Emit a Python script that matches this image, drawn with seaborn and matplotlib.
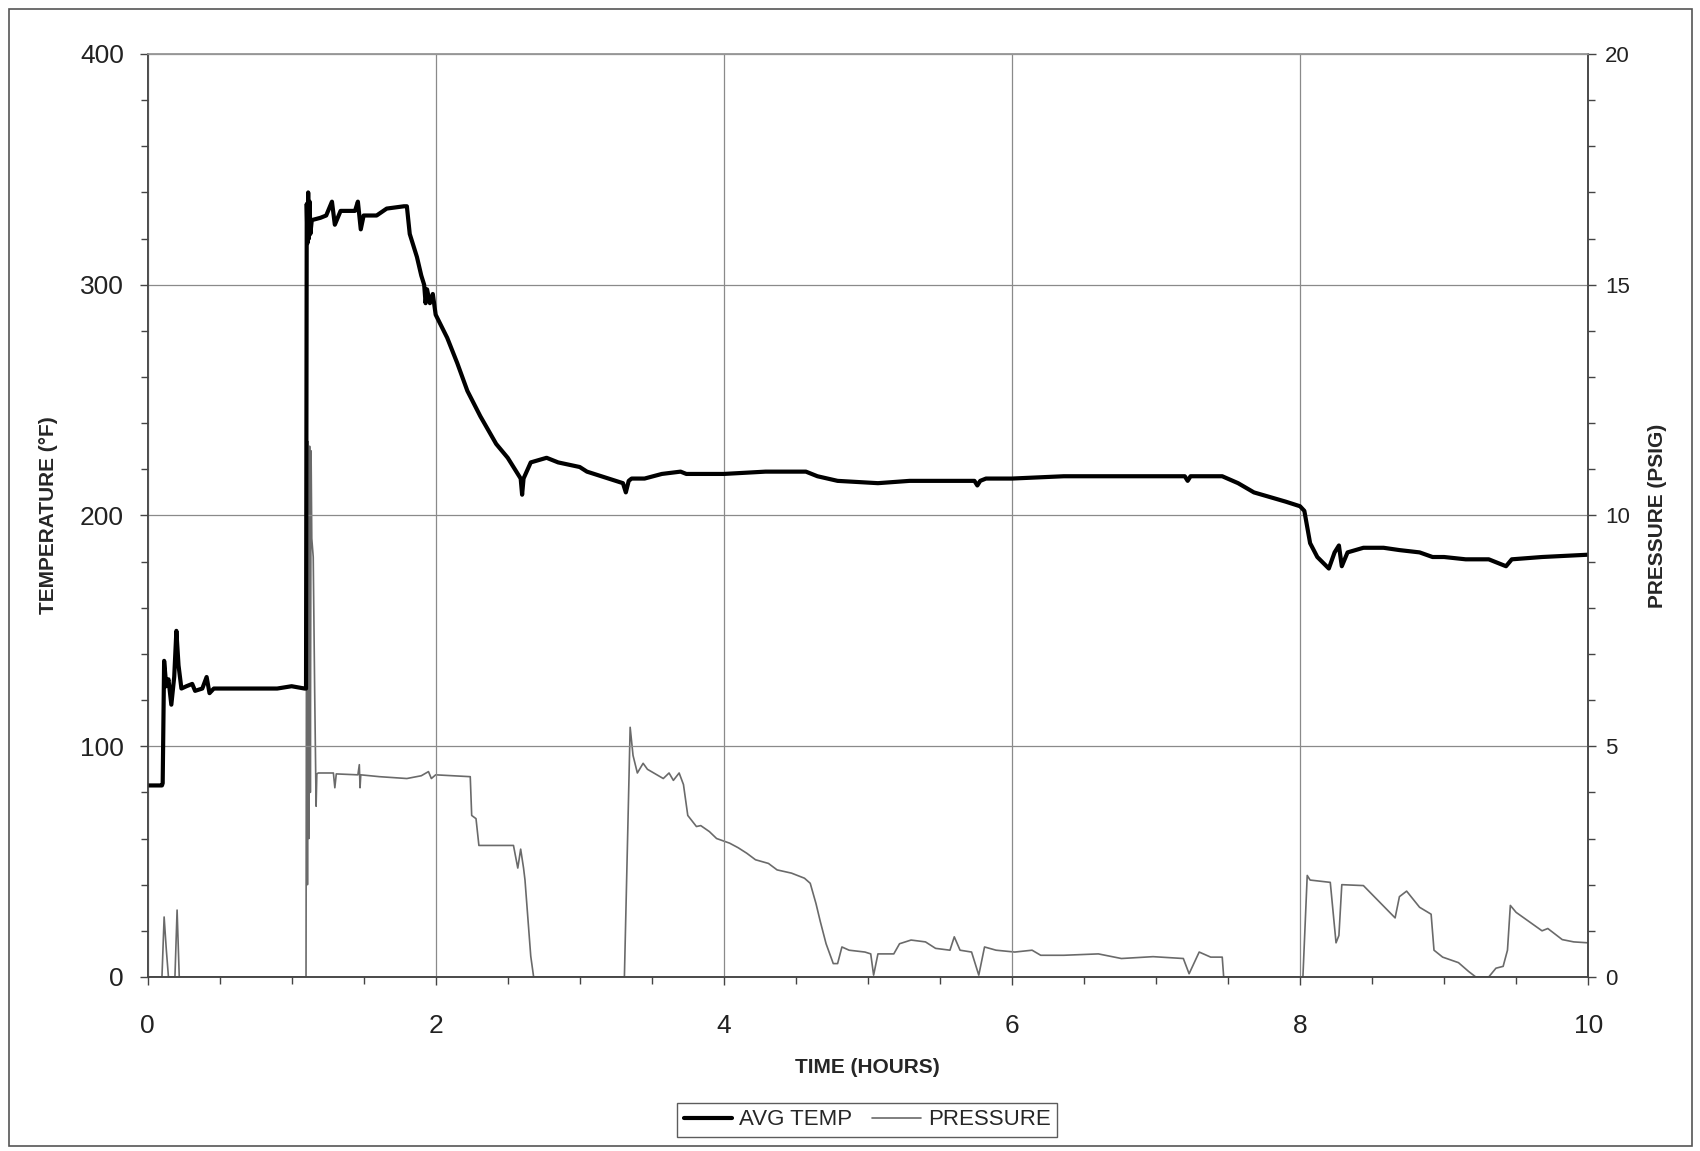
import numpy as np
import pandas as pd
import seaborn as sns
from matplotlib import pyplot as plt
from matplotlib.ticker import MultipleLocator
from matplotlib.patches import Rectangle
from matplotlib.lines import Line2D

# values
temp_time = [0.0, 0.10, 0.105, 0.115, 0.13, 0.145, 0.165, 0.185, 0.2, 0.215, 0.235, 0.27, 0.31,
             0.33, 0.38, 0.41, 0.43, 0.46, 0.7, 0.9, 1.0, 1.09, 1.10, 1.105, 1.11, 1.115, 1.12,
             1.125, 1.13, 1.14, 1.20, 1.24, 1.28, 1.30, 1.34, 1.44, 1.46, 1.48, 1.5, 1.59, 1.66,
             1.78, 1.80, 1.82, 1.87, 1.90, 1.92, 1.93, 1.94, 1.96, 1.98, 2.0, 2.08, 2.15, 2.22,
             2.31, 2.42, 2.5, 2.56, 2.59, 2.60, 2.61, 2.66, 2.77, 2.85, 3.0, 3.05, 3.15, 3.25,
             3.30, 3.32, 3.34, 3.36, 3.45, 3.57, 3.70, 3.74, 3.85, 4.0, 4.29, 4.57, 4.65, 4.79,
             5.07, 5.29, 5.5, 5.74, 5.76, 5.78, 5.82, 6.0, 6.36, 6.8, 7.2, 7.22, 7.24, 7.46,
             7.57, 7.68, 7.79, 7.9, 8.0, 8.03, 8.07, 8.12, 8.2, 8.24, 8.27, 8.29, 8.33, 8.44,
             8.58, 8.69, 8.83, 8.92, 9.0, 9.15, 9.31, 9.43, 9.47, 9.68, 10.0]
avg_temp = [83, 83, 84, 137, 126, 129, 118, 130, 150, 135, 125, 126, 127,
            124, 125, 130, 123, 125, 125, 125, 126, 125, 125, 335, 318, 340, 320,
            336, 322, 328, 329, 330, 336, 326, 332, 332, 336, 324, 330, 330, 333,
            334, 334, 322, 312, 304, 300, 292, 298, 292, 296, 287, 277, 266, 254,
            243, 231, 225, 219, 216, 209, 216, 223, 225, 223, 221, 219, 217, 215,
            214, 210, 215, 216, 216, 218, 219, 218, 218, 218, 219, 219, 217, 215,
            214, 215, 215, 215, 213, 215, 216, 216, 217, 217, 217, 215, 217, 217,
            214, 210, 208, 206, 204, 202, 188, 182, 177, 184, 187, 178, 184, 186,
            186, 185, 184, 182, 182, 181, 181, 178, 181, 182, 183]

press_time = [0.0, 0.10, 0.115, 0.13, 0.145, 0.19, 0.205, 0.22, 1.09, 1.10, 1.105, 1.11, 1.115,
              1.12, 1.125, 1.13, 1.135, 1.14, 1.15, 1.16, 1.17, 1.175, 1.185, 1.29, 1.30, 1.31,
              1.46, 1.47, 1.475, 1.48, 1.61, 1.8, 1.9, 1.95, 1.97, 2.0, 2.24, 2.25, 2.28, 2.30,
              2.54, 2.57, 2.59, 2.61, 2.62, 2.64, 2.66, 2.68, 3.31, 3.35, 3.37, 3.40, 3.44, 3.47,
              3.58, 3.62, 3.65, 3.69, 3.72, 3.75, 3.81, 3.84, 3.9, 3.95, 4.04, 4.10, 4.16, 4.22,
              4.31, 4.37, 4.47, 4.56, 4.60, 4.64, 4.67, 4.71, 4.76, 4.79, 4.82, 4.87, 4.98, 5.02,
              5.04, 5.07, 5.18, 5.22, 5.3, 5.4, 5.47, 5.57, 5.6, 5.64, 5.72, 5.77, 5.81, 5.89,
              6.02, 6.14, 6.2, 6.36, 6.6, 6.76, 6.98, 7.19, 7.23, 7.3, 7.38, 7.46, 7.47, 8.02,
              8.05, 8.07, 8.21, 8.25, 8.27, 8.29, 8.44, 8.66, 8.69, 8.74, 8.83, 8.91, 8.93, 8.99,
              9.1, 9.17, 9.22, 9.31, 9.36, 9.41, 9.44, 9.46, 9.5, 9.59, 9.68, 9.72, 9.82, 9.9, 10.0]
pressure = [0, 0, 1.3, 0.6, 0, 0, 1.45, 0, 0, 0, 12.0, 2.0, 11.6,
            3.0, 11.5, 4.0, 11.4, 9.5, 9.1, 6.2, 3.7, 4.4, 4.42, 4.42, 4.1, 4.4,
            4.38, 4.6, 4.1, 4.38, 4.34, 4.3, 4.36, 4.45, 4.3, 4.38, 4.34, 3.5, 3.43, 2.85,
            2.85, 2.36, 2.77, 2.36, 2.1, 1.28, 0.45, 0, 0, 5.41, 4.8, 4.42, 4.63, 4.5,
            4.3, 4.42, 4.26, 4.42, 4.17, 3.5, 3.26, 3.28, 3.15, 3.0, 2.9, 2.8, 2.68, 2.54,
            2.46, 2.32, 2.25, 2.14, 2.03, 1.59, 1.2, 0.72, 0.29, 0.29, 0.65, 0.58, 0.54, 0.5,
            0.04, 0.5, 0.5, 0.72, 0.8, 0.76, 0.62, 0.58, 0.87, 0.58, 0.54, 0.04, 0.65, 0.58,
            0.54, 0.58, 0.47, 0.47, 0.5, 0.4, 0.44, 0.4, 0.07, 0.54, 0.43, 0.43, 0, 0,
            2.2, 2.1, 2.05, 0.74, 0.9, 2.0, 1.98, 1.28, 1.74, 1.86, 1.51, 1.36, 0.58, 0.43,
            0.31, 0.12, 0, 0, 0.19, 0.23, 0.58, 1.55, 1.4, 1.2, 1.0, 1.05, 0.81, 0.76, 0.74]

temp_df = pd.DataFrame({'time': temp_time, 'temp': avg_temp})
press_df = pd.DataFrame({'time': press_time, 'psig': pressure})

sns.set_style('ticks')
plt.rcParams['font.family'] = ['Liberation Sans', 'DejaVu Sans']

fig = plt.figure(figsize=(17, 11.51), dpi=100)
ax = fig.add_axes([0.0868, 0.1512, 0.8474, 0.8019])
ax2 = ax.twinx()

sns.lineplot(data=press_df, x='time', y='psig', ax=ax2, color='#6a6a6a', linewidth=1.2,
             estimator=None, sort=False)
sns.lineplot(data=temp_df, x='time', y='temp', ax=ax, color='black', linewidth=3.0,
             estimator=None, sort=False)
ax.set_zorder(ax2.get_zorder() + 1)
ax.patch.set_visible(False)

ax.set_xlim(0, 10)
ax.set_ylim(0, 400)
ax2.set_ylim(0, 20)
ax.xaxis.set_major_locator(MultipleLocator(2))
ax.xaxis.set_minor_locator(MultipleLocator(0.5))
ax.yaxis.set_major_locator(MultipleLocator(100))
ax.yaxis.set_minor_locator(MultipleLocator(20))
ax2.yaxis.set_major_locator(MultipleLocator(5))
ax2.yaxis.set_minor_locator(MultipleLocator(1))

ax.grid(True, which='major', color='#8a8a8a', linewidth=0.9)
ax2.grid(False)

for a in (ax, ax2):
    for s in a.spines.values():
        s.set_color('#444444')
        s.set_linewidth(1.1)
    a.spines['top'].set_color('#9a9a9a')

ax.tick_params(axis='x', which='major', direction='out', length=6, width=1, color='#444444',
               labelsize=19, pad=21)
ax.tick_params(axis='x', which='minor', direction='out', length=5, width=1, color='#444444')
ax.tick_params(axis='y', which='major', direction='out', length=6, width=1, color='#444444',
               labelsize=19, pad=11)
ax.tick_params(axis='y', which='minor', direction='out', length=5, width=1, color='#444444')
ax2.tick_params(axis='y', which='major', direction='out', length=6, width=1, color='#444444',
                labelsize=16, pad=6)
ax2.tick_params(axis='y', which='minor', direction='out', length=5, width=1, color='#444444')
for lbl in ax.get_xticklabels() + ax.get_yticklabels() + ax2.get_yticklabels():
    lbl.set_color('#222222')

ax.set_xlabel('TIME (HOURS)', fontsize=15, fontweight='bold')
ax.set_ylabel('TEMPERATURE (°F)', fontsize=15, fontweight='bold')
ax2.set_ylabel('PRESSURE (PSIG)', fontsize=15, fontweight='bold')
ax.xaxis.set_label_coords(0.5, -0.088)
ax.yaxis.set_label_coords(-0.062, 0.5)
ax2.yaxis.set_label_coords(1.0415, 0.5)

handles = [Line2D([], [], color='black', linewidth=3.0),
           Line2D([], [], color='#6a6a6a', linewidth=1.2)]
leg = fig.legend(handles, ['AVG TEMP', 'PRESSURE'], loc='center', ncol=2,
                 bbox_to_anchor=(0.51, 0.027), fontsize=16, frameon=True, fancybox=False,
                 edgecolor='#333333', handlelength=2.2, handletextpad=0.3, columnspacing=0.9,
                 borderpad=0.3)
leg.get_frame().set_linewidth(1.0)

fig.patches.append(Rectangle((0.005, 0.004), 0.99, 0.988, transform=fig.transFigure,
                             fill=False, edgecolor='#555555', linewidth=1.2))

fig.savefig('out.png', dpi=100)
